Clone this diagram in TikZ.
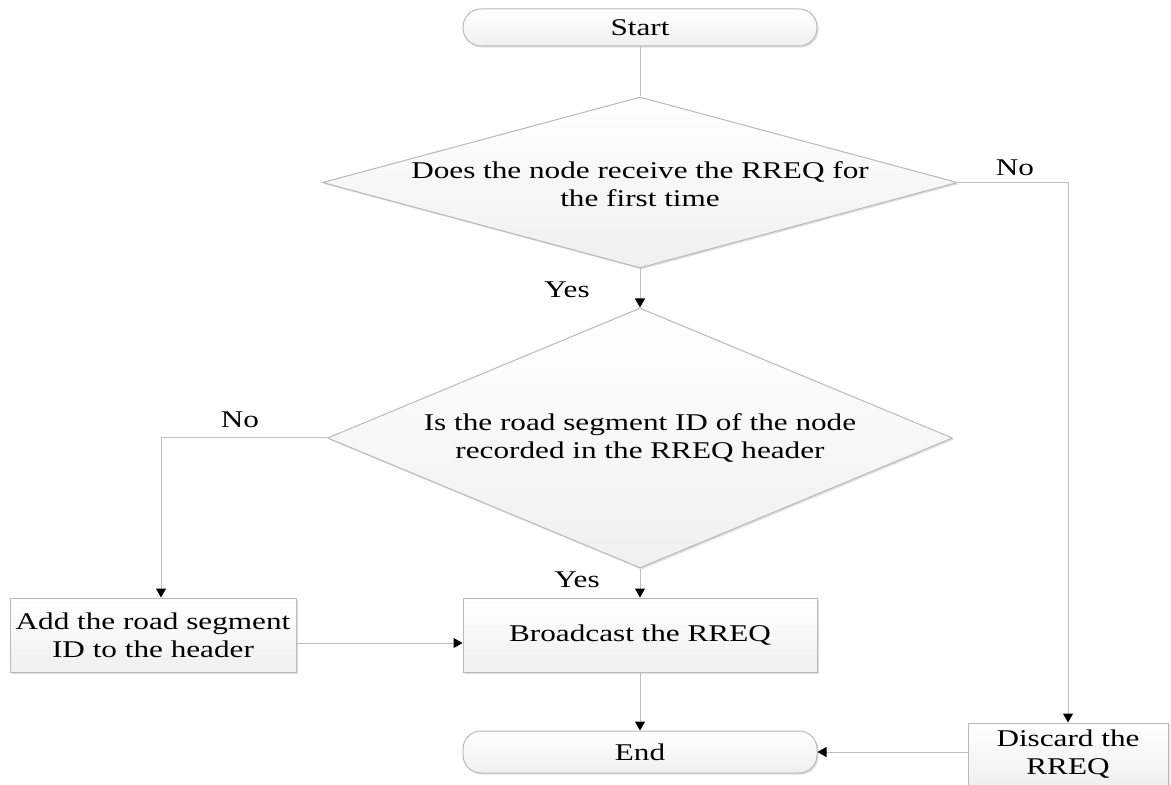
\documentclass[tikz,border=0pt]{standalone}
\usepackage{fontspec}
\setmainfont{Liberation Serif}[FakeStretch=1.3]
\usetikzlibrary{shapes.geometric,arrows.meta,shadows}
\begin{document}
\begin{tikzpicture}[x=0.5pt, y=-0.5pt, line width=0.5pt, font=\fontsize{12}{14}\selectfont,
  box/.style={draw=gray!55, top color=white, bottom color=gray!12, drop shadow={opacity=0.25, shadow xshift=0.8pt, shadow yshift=-0.8pt}, inner sep=2pt, align=center},
  term/.style={box, rounded corners=9pt, minimum width=177pt},
  decision/.style={box, diamond, inner sep=0pt},
  link/.style={draw=gray!50, -{Triangle[length=4.5pt, width=5pt, color=black]}},
  plain/.style={draw=gray!50}]
  \useasboundingbox (0,0) rectangle (1171,785);
  \node[term, minimum height=18.5pt] (start) at (640,27.5) {Start};
  \node[decision, minimum width=317.5pt, minimum height=85.5pt] (q1) at (640,182.5) {};
  \node[align=center] (q1txt) at (640,184) {Does the node receive the RREQ for\\the first time};
  \node[decision, minimum width=312.5pt, minimum height=130pt] (q2) at (640,438) {};
  \node[align=center] (q2txt) at (640,438) {Is the road segment ID of the node\\recorded in the RREQ header};
  \node[box, minimum width=177pt, minimum height=37pt] (bcast) at (640,635) {Broadcast the RREQ};
  \node[box, minimum width=143pt, minimum height=37pt] (add) at (153,635) {Add the road segment\\ID to the header};
  \node[term, minimum height=21pt] (end) at (640,752) {End};
  \node[box, minimum width=100pt, minimum height=31.5pt] (discard) at (1068,754.5) {Discard the\\RREQ};
  \draw[plain] (start) -- (q1);
  \draw[link] (q1) -- (q2);
  \draw[link] (q1.east) -| (discard.north);
  \draw[link] (q2) -- (bcast);
  \draw[link] (q2.west) -| ([xshift=4pt]add.north);
  \draw[link] ([yshift=-4pt]add.east) -- ([yshift=-4pt]bcast.west);
  \draw[link] (bcast) -- (end);
  \draw[link] (discard.west |- end.east) -- (end.east);
  \node (no1) at (1015,168) {No};
  \node (yes1) at (567,290) {Yes};
  \node (no2) at (240,420) {No};
  \node (yes2) at (577,580) {Yes};
\end{tikzpicture}
\end{document}
